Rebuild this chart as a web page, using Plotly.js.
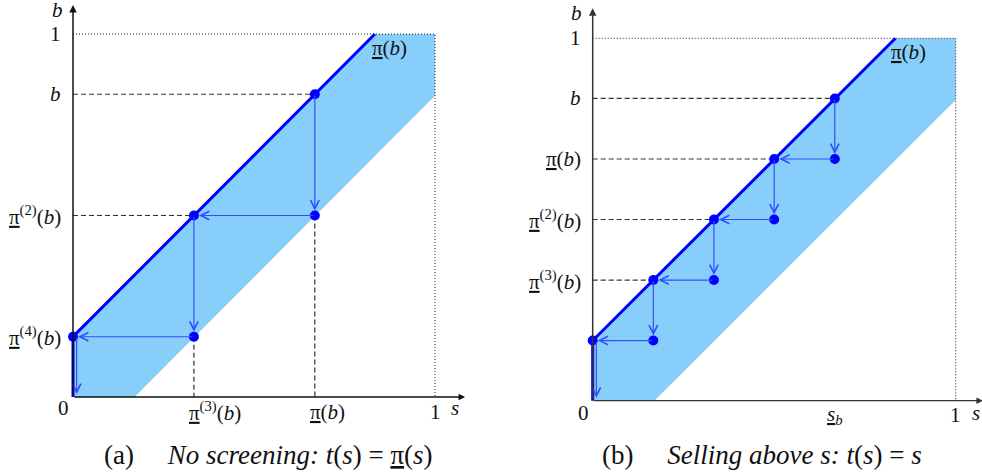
<!DOCTYPE html>
<html><head><meta charset="utf-8">
<script src="https://cdn.plot.ly/plotly-3.0.1.min.js"></script>
<style>html,body{margin:0;padding:0;background:#fff}#chart{width:982px;height:475px}</style>
</head><body><div id="chart"></div>
<script>
// ---------- data ----------
// shaded band (same in both panels): between b = s + 0.166 and b = s - 0.17, clipped to unit square
const bandS = [0, 0.17, 1, 1, 0.834, 0];
const bandB = [0, 0, 0.83, 1, 1, 0.166];
// upper boundary  π(b)  (with vertical piece on the b-axis)
const curveS = [0, 0, 0.834];
const curveB = [0, 0.166, 1];
// unit-square dotted frame
const frameS = [0, 1, 1];
const frameB = [1, 1, 0];

// panel (a): iteration points
const aS = [0.668, 0.668, 0.334, 0.334, 0];
const aB = [0.834, 0.5, 0.5, 0.166, 0.166];
// panel (b): iteration points
const bS = [0.667, 0.667, 0.5, 0.5, 0.334, 0.334, 0.167, 0.167, 0];
const bB = [0.834, 0.667, 0.667, 0.5, 0.5, 0.333, 0.333, 0.166, 0.166];
// final drop arrow along the b-axis
const dropS = 0.01;

// tick labels
const aYVals = [1, 0.834, 0.5, 0.166];
const aYText = ['1', '<i>b</i>', '<u>π</u><sup>(2)</sup>(<i>b</i>)', '<u>π</u><sup>(4)</sup>(<i>b</i>)'];
const aXVals = [0.334, 0.668, 1];
const aXText = ['<u>π</u><sup>(3)</sup>(<i>b</i>)', '<u>π</u>(<i>b</i>)', '1'];
const bYVals = [1, 0.834, 0.667, 0.5, 0.333];
const bYText = ['1', '<i>b</i>', '<u>π</u>(<i>b</i>)', '<u>π</u><sup>(2)</sup>(<i>b</i>)', '<u>π</u><sup>(3)</sup>(<i>b</i>)'];
const bXVals = [0.667, 1];
const bXText = ['<u><i>s</i></u><sub><i>b</i></sub>', '1'];
const curveLabel = '<u>π</u>(<i>b</i>)';
const captionA = '(a)\u2003 <i>No screening:</i> <i>t</i>(<i>s</i>) = <u>π</u>(<i>s</i>)';
const captionB = '(b)\u2003 <i>Selling above s:</i> <i>t</i>(<i>s</i>) = <i>s</i>';

// ---------- styling ----------
const FONT = '"Liberation Serif", serif';
const BLUE = '#0000ff';
const ARROW = '#3050ff';
const FILL = '#87cefa';

function panel(xa, ya, pS, pB, hDash, vDash) {
  const tr = [];
  tr.push({x: bandS, y: bandB, xaxis: xa, yaxis: ya, mode: 'lines', fill: 'toself',
    fillcolor: FILL, line: {width: 0}, hoverinfo: 'skip'});
  tr.push({x: frameS, y: frameB, xaxis: xa, yaxis: ya, mode: 'lines',
    line: {color: '#222', width: 1, dash: '1px,2px'}, hoverinfo: 'skip'});
  // dashed guide lines
  const dx = [], dy = [];
  hDash.forEach(i => { dx.push(0, pS[i], null); dy.push(pB[i], pB[i], null); });
  vDash.forEach(i => { dx.push(pS[i], pS[i], null); dy.push(pB[i], 0, null); });
  tr.push({x: dx, y: dy, xaxis: xa, yaxis: ya, mode: 'lines',
    line: {color: '#333', width: 1.2, dash: '5px,3px'}, hoverinfo: 'skip'});
  tr.push({x: curveS, y: curveB, xaxis: xa, yaxis: ya, mode: 'lines',
    line: {color: BLUE, width: 3}, hoverinfo: 'skip'});
  tr.push({x: pS, y: pB, xaxis: xa, yaxis: ya, mode: 'markers',
    marker: {color: BLUE, size: 10}, hoverinfo: 'skip'});
  return tr;
}

const traces = [].concat(
  panel('x', 'y', aS, aB, [0, 2], [1, 3]),
  panel('x2', 'y2', bS, bB, [0, 2, 4, 6], [])
);

const ann = [];
function arrows(xr, yr, pS, pB) {
  for (let i = 0; i < pS.length - 1; i++) {
    ann.push({xref: xr, yref: yr, axref: xr, ayref: yr, x: pS[i + 1], y: pB[i + 1], ax: pS[i], ay: pB[i],
      text: '', showarrow: true, arrowhead: 5, arrowsize: 1.4, arrowwidth: 1.2, arrowcolor: ARROW, standoff: 5});
  }
  const last = pS.length - 1;
  ann.push({xref: xr, yref: yr, axref: xr, ayref: yr, x: dropS, y: 0, ax: dropS, ay: pB[last],
    text: '', showarrow: true, arrowhead: 5, arrowsize: 1.4, arrowwidth: 1.2, arrowcolor: ARROW, standoff: 3});
}
function axesArrows(xr, yr, xEnd, yEnd, col) {
  ann.push({xref: xr, yref: yr, axref: xr, ayref: yr, x: xEnd, y: 0, ax: 0, ay: 0, text: '', showarrow: true,
    arrowhead: 2, arrowsize: 1, arrowwidth: 1.3, arrowcolor: col});
  ann.push({xref: xr, yref: yr, axref: xr, ayref: yr, x: 0, y: yEnd, ax: 0, ay: 0, text: '', showarrow: true,
    arrowhead: 2, arrowsize: 1, arrowwidth: 1.5, arrowcolor: col});
}
function label(xr, yr, x, y, text, opts) {
  ann.push(Object.assign({xref: xr, yref: yr, x: x, y: y, text: text, showarrow: false,
    xanchor: 'center', yanchor: 'middle',
    font: {family: FONT, size: 21, color: '#111'}}, opts || {}));
}

arrows('x', 'y', aS, aB);
arrows('x2', 'y2', bS, bB);
axesArrows('x', 'y', 1.083, 1.08, '#111');
axesArrows('x2', 'y2', 1.075, 1.083, '#333');

// panel (a) labels
aYVals.forEach((v, i) => label('x', 'y', 0, v, aYText[i], {xanchor: 'right', xshift: -10}));
aXVals.forEach((v, i) => label('x', 'y', v, 0, aXText[i],
  {xanchor: aXText[i].indexOf('(') >= 0 ? 'left' : 'center', xshift: aXText[i].indexOf('(') >= 0 ? -7 : 0, yshift: -15}));
label('x', 'y', 0, 0, '0', {xshift: -10, yshift: -11});
label('x', 'y', 1.056, 0, '<i>s</i>', {yshift: -11});
label('x', 'y', 0, 1.066, '<i>b</i>', {xshift: -16});
label('x', 'y', 0.874, 0.961, curveLabel);

// panel (b) labels
bYVals.forEach((v, i) => label('x2', 'y2', 0, v, bYText[i], {xanchor: 'right', xshift: -10}));
bXVals.forEach((v, i) => label('x2', 'y2', v, 0, bXText[i], {yshift: -14}));
label('x2', 'y2', 0, 0, '0', {xshift: -9, yshift: -12});
label('x2', 'y2', 1.056, 0, '<i>s</i>', {yshift: -12});
label('x2', 'y2', 0, 1.07, '<i>b</i>', {xshift: -16});
label('x2', 'y2', 0.871, 0.963, curveLabel);

// captions
ann.push({xref: 'paper', yref: 'paper', x: 268 / 982, y: 1 - 455 / 475, text: captionA, showarrow: false,
  xanchor: 'center', yanchor: 'middle', font: {family: FONT, size: 27, color: '#111'}});
ann.push({xref: 'paper', yref: 'paper', x: 762 / 982, y: 1 - 455 / 475, text: captionB, showarrow: false,
  xanchor: 'center', yanchor: 'middle', font: {family: FONT, size: 27, color: '#111'}});

const ax = (dom, rng) => ({domain: dom, range: rng, visible: false, fixedrange: true});
const layout = {
  width: 982, height: 475,
  margin: {l: 0, r: 0, t: 0, b: 0, pad: 0},
  paper_bgcolor: '#fff', plot_bgcolor: 'rgba(0,0,0,0)',
  showlegend: false,
  font: {family: FONT, size: 21, color: '#111'},
  xaxis: ax([0, 490 / 982], [-0.2017, 1.1519]),
  yaxis: ax([0, 1], [-0.2149, 1.0937]),
  xaxis2: ax([490 / 982, 1], [-0.2829, 1.0725]),
  yaxis2: ax([0, 1], [-0.2050, 1.1057]),
  annotations: ann
};
Plotly.newPlot('chart', traces, layout, {staticPlot: true, displayModeBar: false});
</script></body></html>
